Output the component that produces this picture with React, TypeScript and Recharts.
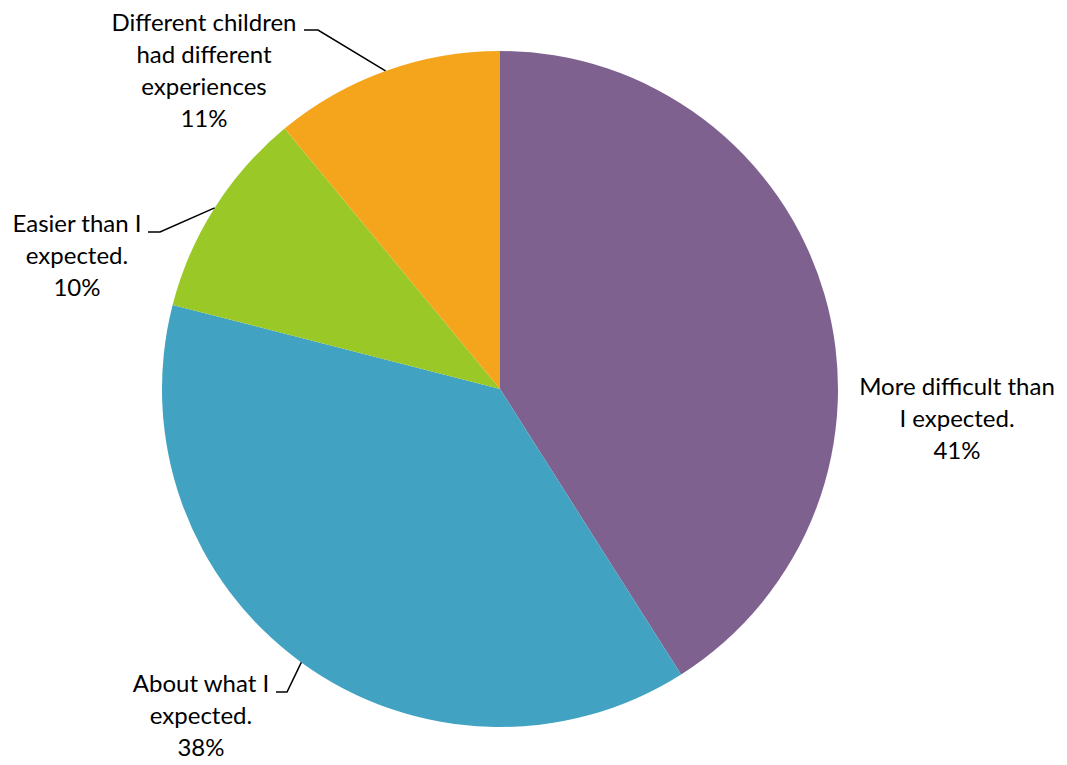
import { PieChart, Pie, Cell } from 'recharts'

// ── Data ──────────────────────────────────────────────────────────────────────

const categories = [
  'More difficult than I expected.',
  'About what I expected.',
  'Easier than I expected.',
  'Different children had different experiences',
]

const shares = [41, 38, 10, 11]

// label text as it wraps in the original
const labelLines = [
  ['More difficult than', 'I expected.'],
  ['About what I', 'expected.'],
  ['Easier than I', 'expected.'],
  ['Different children', 'had different', 'experiences'],
]

const COLORS = ['#7F6190', '#41A2C2', '#9AC827', '#F5A51B']

// ── Layout ────────────────────────────────────────────────────────────────────

const LINE_H = 32
const FONT = 'Lato, "Noto Sans", sans-serif'

// text centre / first baseline, plus leader elbow (null = no leader)
const LABEL_LAYOUT = [
  { x: 957, y: 395, elbow: null, tail: null },
  { x: 201, y: 692, elbow: [287, 692], tail: [276, 692] },
  { x: 77, y: 232, elbow: [160, 232], tail: [148, 232] },
  { x: 204, y: 31, elbow: [318, 30], tail: [304, 30] },
] as const

const data = categories.map((name, i) => ({ name, value: shares[i] }))

const RAD = Math.PI / 180

function renderLabel(props: any) {
  const { cx, cy, midAngle, outerRadius, index, percent } = props
  const layout = LABEL_LAYOUT[index]
  const lines = [...labelLines[index], `${Math.round(percent * 100)}%`]
  const ex = cx + outerRadius * Math.cos(-midAngle * RAD)
  const ey = cy + outerRadius * Math.sin(-midAngle * RAD)
  return (
    <g key={`label-${index}`}>
      {layout.elbow && layout.tail && (
        <polyline
          points={`${ex},${ey} ${layout.elbow[0]},${layout.elbow[1]} ${layout.tail[0]},${layout.tail[1]}`}
          fill="none"
          stroke="#000"
          strokeWidth={1.5}
        />
      )}
      <text
        x={layout.x}
        y={layout.y}
        textAnchor="middle"
        fontFamily={FONT}
        fontSize={24}
        fill="#000"
      >
        {lines.map((line, i) => (
          <tspan key={i} x={layout.x} y={layout.y + i * LINE_H}>
            {line}
          </tspan>
        ))}
      </text>
    </g>
  )
}

export default function App() {
  return (
    <div style={{ position: 'absolute', left: 0, top: 0, background: '#fff' }}>
      <PieChart width={1067} height={765} margin={{ top: 0, right: 0, bottom: 0, left: 0 }}>
        <Pie
          data={data}
          dataKey="value"
          nameKey="name"
          cx={500}
          cy={389}
          outerRadius={338}
          startAngle={90}
          endAngle={-270}
          stroke="none"
          label={renderLabel}
          labelLine={false}
          isAnimationActive={false}
        >
          {data.map((_entry, i) => (
            <Cell key={i} fill={COLORS[i]} />
          ))}
        </Pie>
      </PieChart>
    </div>
  )
}
